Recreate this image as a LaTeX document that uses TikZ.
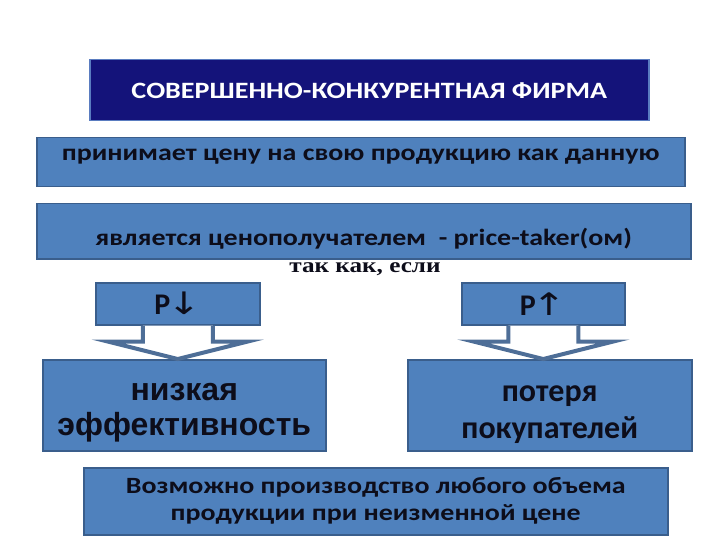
\documentclass[tikz,border=0pt]{standalone}
\usepackage{fontspec}
\usepackage{graphicx}
\setmainfont{Carlito}[FakeStretch=1.2]
\newfontfamily\pcplain{Carlito}
\newfontfamily\pcarial{Liberation Sans}
\newfontfamily\pcarrowfont{DejaVu Sans}
\newfontfamily\pcserif{Liberation Serif}[FakeStretch=1.2]
\usetikzlibrary{calc}
\definecolor{pcnavy}{HTML}{14137A}
\definecolor{pcnavyline}{HTML}{5A7CC0}
\definecolor{pcbox}{HTML}{4F81BD}
\definecolor{pcboxline}{HTML}{3A5E8C}
\definecolor{pcink}{HTML}{0D0D1A}
\newcommand\pcarrow[1]{\kern-3pt\scalebox{1.3}[1]{\pcarrowfont\mdseries\fontsize{31}{31}\selectfont#1}}
\tikzset{
  every picture/.style={font=\bfseries,text=pcink},
  box/.style={rectangle,draw=pcboxline,fill=pcbox,line width=1.5pt,
    inner sep=0pt,anchor=north west,align=center},
  title box/.style={box,draw=pcnavyline,fill=pcnavy,text=white},
  price box/.style={box,font=\pcplain\bfseries\fontsize{30}{30}\selectfont,
    minimum width=164,minimum height=42},
  block arrow/.style={draw=pcboxline!90,fill=white,line width=4pt,line join=miter},
  body/.style={font=\bfseries\fontsize{23.3}{27}\selectfont},
}
\begin{document}
\begin{tikzpicture}[x=1pt,y=-1pt]
  % pixel grid of the slide, y grows downwards
  \path[use as bounding box] (0,0) rectangle (720,540);
  \node[title box,minimum width=559,minimum height=61,
    font=\bfseries\fontsize{23.4}{27}\selectfont] (firm) at (89,59)
    {СОВЕРШЕННО-КОНКУРЕНТНАЯ ФИРМА};
  \node[box,body,minimum width=648,minimum height=49,text height=12,text depth=15]
    (given) at (36,137) {принимает цену на свою продукцию как данную};
  \node[box,body,minimum width=654,minimum height=55,text height=32,text depth=3]
    (taker) at (36,203) {является ценополучателем\ \ - price-taker(ом)};
  \node[font=\pcserif\bfseries\fontsize{21}{24}\selectfont,anchor=base]
    (since) at (365,272) {так как, если};
  \node[price box] (pdown) at (95,282) {P\pcarrow{↓}};
  \node[price box,minimum width=163] (pup) at (461,282) {P\pcarrow{↑}};
  \node[box,font=\pcarial\bfseries\fontsize{32}{35}\selectfont,minimum width=283,
    minimum height=91] (loweff) at (42,359) {\rule{0pt}{33pt}низкая\\эффективность};
  \node[box,font=\pcplain\bfseries\fontsize{32}{37}\selectfont,minimum width=284,
    minimum height=91] (lossbuy) at (407,359) {\rule{0pt}{35pt}потеря\\покупателей};
  \node[box,body,minimum width=584,minimum height=67] (anyqty) at (83,467)
    {Возможно производство любого объема\\продукции при неизменной цене};
  \foreach \src/\dst in {pdown/loweff,pup/lossbuy}{
    \draw[block arrow] ($(\src.south)+(-35,0)$) -- ++(0,16) -- ++(-35,0)
      -- (\src.south |- \dst.north) -- ($(\src.south)+(70,16)$) -- ++(-35,0) -- ++(0,-16);
  }
\end{tikzpicture}
\end{document}
